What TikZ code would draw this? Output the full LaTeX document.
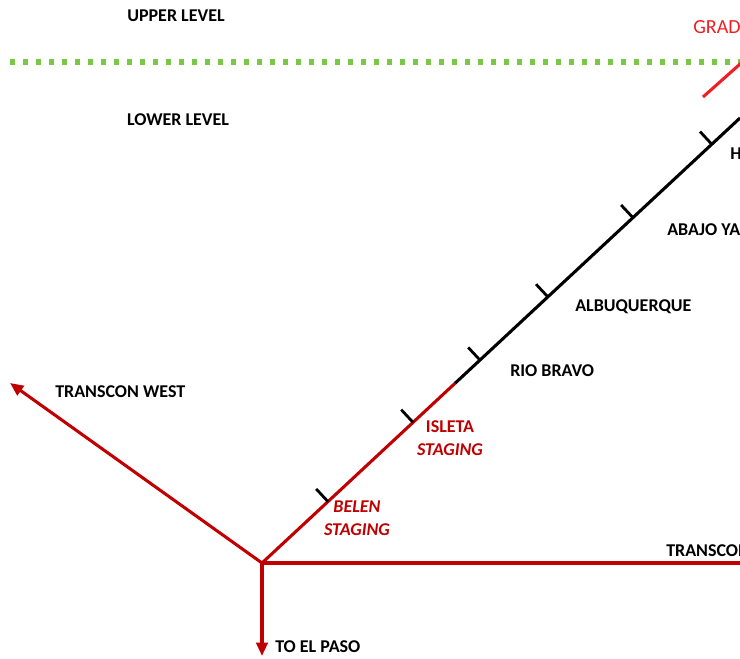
\documentclass[tikz,border=0pt]{standalone}
\usepackage{fontspec}
\setmainfont{Carlito}
\usetikzlibrary{arrows.meta, positioning, calc}
\definecolor{trackred}{RGB}{192,0,0}
\definecolor{gradered}{RGB}{240,30,36}
\definecolor{levelgreen}{RGB}{122,200,72}
\tikzset{
  lbl/.style={font=\fontsize{13.5}{15}\selectfont\bfseries, text=black,
    inner sep=0pt, anchor=west},
  redlbl/.style={font=\fontsize{13.5}{17}\selectfont\bfseries, text=trackred,
    inner sep=0pt, align=center},
  redtrack/.style={line width=2.3pt, color=trackred},
  blacktrack/.style={line width=2.3pt, color=black},
  redarrow/.style={redtrack, -{Triangle[length=10pt, width=8.5pt]}},
  tickmark/.style={line width=2.1pt, color=black},
  levelline/.style={line width=3.9pt, color=levelgreen,
    dash pattern=on 3.9pt off 5.85pt}
}

\begin{document}
\begin{tikzpicture}[x=0.75pt, y=-0.75pt]
  \useasboundingbox (0,0) rectangle (740,659);
  \clip (0,0) rectangle (740,659);

  % Level divider
  \coordinate (lvlw) at (10,62);
  \coordinate (lvle) at (745,62);
  \draw[levelline] (lvlw) -- (lvle);
  \node[lbl, anchor=center] (upper) at (176,16) {UPPER LEVEL};
  \node[lbl, anchor=center] (lower) at (178,120) {LOWER LEVEL};

  % Grade up to upper level
  \node[font=\fontsize{15}{17}\selectfont, text=gradered, inner sep=0pt, anchor=west] (grade) at (693,27) {GRAD};
  \coordinate (gradelo) at (703,97);
  \coordinate (gradehi) at (748,57);
  \draw[line width=2.3pt, color=gradered] (gradelo) -- (gradehi);

  % Main line
  \coordinate (jct) at (262,563);
  \coordinate (ne) at (740,118);
  \coordinate (split) at ($(jct)!0.404!(ne)$);
  \coordinate (westend) at (10,383);
  \coordinate (southend) at (262,656);
  \coordinate (eastend) at (745,563);
  \draw[redtrack] (jct) -- (split);
  \draw[blacktrack] (split) -- (ne);
  \draw[redtrack] (jct) -- (eastend);
  \draw[redarrow] (jct) -- (westend);
  \draw[redarrow] (jct) -- (southend);

  % Station limits
  \foreach \t in {0.138, 0.316, 0.456, 0.598, 0.776, 0.941}
    \draw[tickmark] ($(jct)!\t!(ne)$) -- ($($(jct)!\t!(ne)$)!13pt!90:(ne)$);

  % Labels
  \node[redlbl] (belen) at (357,518) {\itshape BELEN\\\itshape STAGING};
  \node[redlbl] (isleta) at (450,438) {ISLETA\\\itshape STAGING};
  \node[lbl] (riobravo) at (510,371) {RIO BRAVO};
  \node[lbl] (abq) at (575,307) {ALBUQUERQUE};
  \node[lbl] (abajo) at (667,230) {ABAJO YA};
  \node[lbl] (hlbl) at (730,154) {H};
  \node[lbl] (twest) at (55,392) {TRANSCON WEST};
  \node[lbl] (teast) at (666,551) {TRANSCON};
  \node[lbl] (elpaso) at (275,647) {TO EL PASO};
\end{tikzpicture}
\end{document}
